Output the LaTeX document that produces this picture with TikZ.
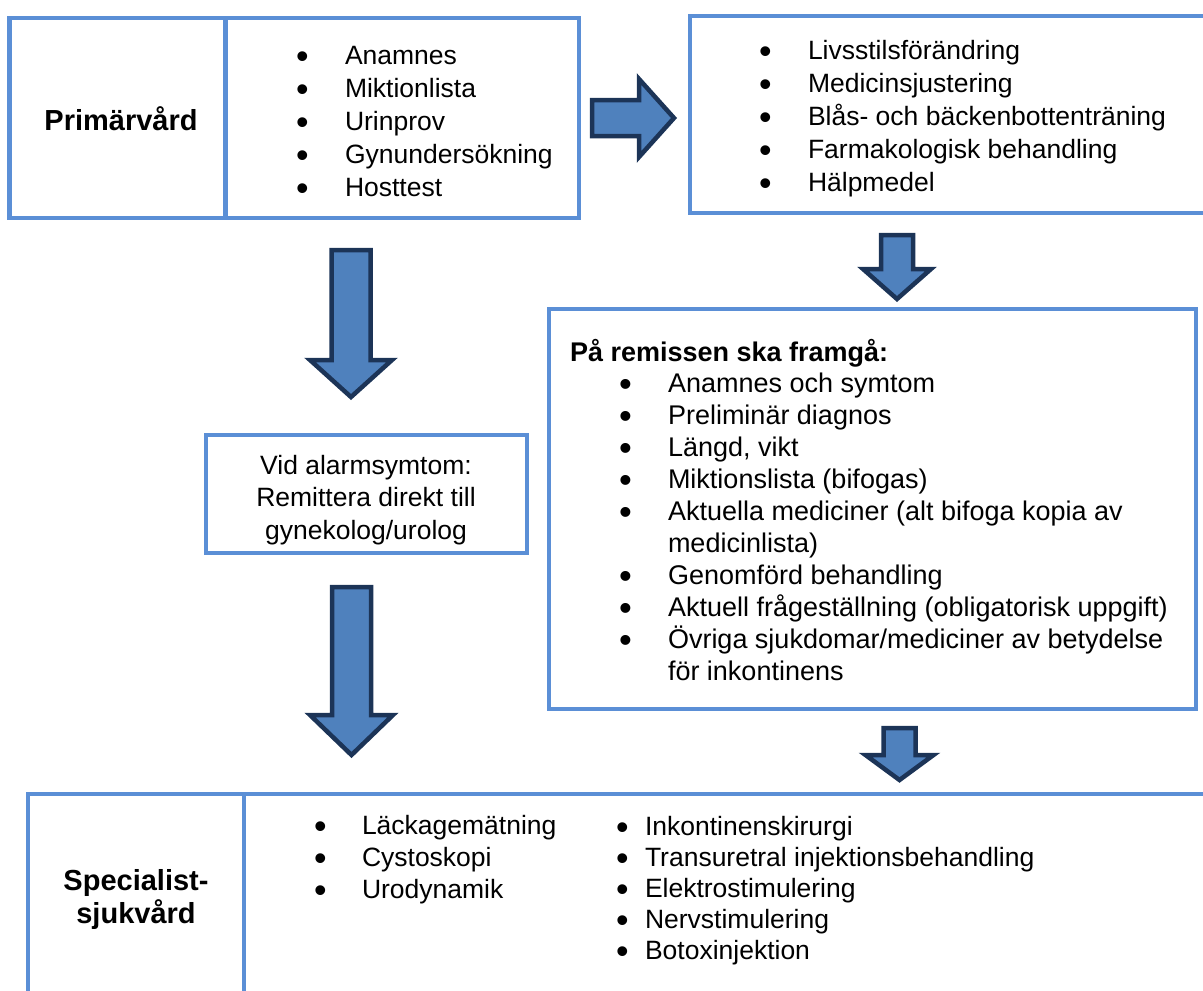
\documentclass[tikz,border=0pt]{standalone}
\usepackage{fontspec}
\setmainfont{Liberation Sans}
\definecolor{boxblue}{RGB}{91,143,214}
\definecolor{arrfill}{RGB}{79,129,189}
\definecolor{arrline}{RGB}{28,52,87}
\newcommand{\bul}[1]{\makebox[#1][l]{\raisebox{-4pt}{\scalebox{1.35}{\textbullet}}}}
\newcommand{\nobul}[1]{\makebox[#1][l]{}}
\begin{document}
\begin{tikzpicture}[x=1pt,y=-1pt,
  box/.style={draw=boxblue,line width=4.5pt,rectangle,inner sep=0pt,outer sep=0pt,anchor=north west,fill=white},
  divider/.style={draw=boxblue,line width=4.5pt},
  blockarrow/.style={draw=arrline,fill=arrfill,line width=4.5pt,line join=miter},
  txt/.style={inner sep=0pt,outer sep=0pt,anchor=base west,font=\fontsize{26.5}{33}\selectfont},
  ctxt/.style={inner sep=0pt,outer sep=0pt,anchor=base,font=\fontsize{26.5}{32.5}\selectfont},
  headtxt/.style={inner sep=0pt,outer sep=0pt,anchor=base,font=\fontsize{29}{33.5}\selectfont\bfseries},
]
\useasboundingbox (0,0) rectangle (1203,991);
\clip (0,0) rectangle (1203,991);

% boxes
\node[box,minimum width=569.5pt,minimum height=200pt] (prim) at (9.5,18) {};
\draw[divider] ([xshift=216pt]prim.north west) -- ([xshift=216pt]prim.south west);
\node[box,minimum width=530pt,minimum height=197pt] (treat) at (690,16) {};
\node[box,minimum width=321pt,minimum height=118pt] (alarm) at (206,435) {};
\node[box,minimum width=647pt,minimum height=400pt] (remiss) at (549,309) {};
\node[box,minimum width=1190pt,minimum height=220pt] (spec) at (28,794) {};
\draw[divider] ([xshift=216pt]spec.north west) -- ([xshift=216pt]spec.south west);

% texts
\node[headtxt] (primlabel) at (121,130) {Primärvård};
\node[txt] (primlist) at (296,64) {\begin{tabular}[t]{@{}l@{}}
\bul{49pt}Anamnes\\
\bul{49pt}Miktionlista\\
\bul{49pt}Urinprov\\
\bul{49pt}Gynundersökning\\
\bul{49pt}Hosttest
\end{tabular}};

\node[txt] (treatlist) at (759,59) {\begin{tabular}[t]{@{}l@{}}
\bul{49pt}Livsstilsförändring\\
\bul{49pt}Medicinsjustering\\
\bul{49pt}Blås- och bäckenbottenträning\\
\bul{49pt}Farmakologisk behandling\\
\bul{49pt}Hälpmedel
\end{tabular}};

\node[ctxt] (alarmtext) at (366,474) {\begin{tabular}[t]{@{}c@{}}
Vid alarmsymtom:\\
Remittera direkt till\\
gynekolog/urolog
\end{tabular}};

\node[txt,font=\fontsize{27}{32}\selectfont\bfseries] (remhead) at (570,361) {På remissen ska framgå:};
\node[txt,font=\fontsize{27}{32}\selectfont] (remlist) at (619,392) {\begin{tabular}[t]{@{}l@{}}
\bul{49pt}Anamnes och symtom\\
\bul{49pt}Preliminär diagnos\\
\bul{49pt}Längd, vikt\\
\bul{49pt}Miktionslista (bifogas)\\
\bul{49pt}Aktuella mediciner (alt bifoga kopia av\\
\nobul{49pt}medicinlista)\\
\bul{49pt}Genomförd behandling\\
\bul{49pt}Aktuell frågeställning (obligatorisk uppgift)\\
\bul{49pt}Övriga sjukdomar/mediciner av betydelse\\
\nobul{49pt}för inkontinens
\end{tabular}};

\node[headtxt] (speclabel) at (136,890) {\begin{tabular}[t]{@{}c@{}}
Specialist-\\
sjukvård
\end{tabular}};
\node[txt,font=\fontsize{26.5}{32}\selectfont] (speclistA) at (314,834) {\begin{tabular}[t]{@{}l@{}}
\bul{48pt}Läckagemätning\\
\bul{48pt}Cystoskopi\\
\bul{48pt}Urodynamik
\end{tabular}};
\node[txt,font=\fontsize{26.5}{31}\selectfont] (speclistB) at (616,835) {\begin{tabular}[t]{@{}l@{}}
\bul{29pt}Inkontinenskirurgi\\
\bul{29pt}Transuretral injektionsbehandling\\
\bul{29pt}Elektrostimulering\\
\bul{29pt}Nervstimulering\\
\bul{29pt}Botoxinjektion
\end{tabular}};

% block arrows
\draw[blockarrow] (592,100) -- (639,100) -- (639,79) -- (674,118) -- (639,157) -- (639,136) -- (592,136) -- cycle;
\draw[blockarrow] (331.5,250) -- (370.5,250) -- (370.5,360) -- (392,360) -- (351,397) -- (310,360) -- (331.5,360) -- cycle;
\draw[blockarrow] (332,587) -- (371,587) -- (371,715) -- (393,715) -- (351.5,755) -- (310,715) -- (332,715) -- cycle;
\draw[blockarrow] (881,235) -- (913,235) -- (913,269) -- (931,269) -- (897,299) -- (863,269) -- (881,269) -- cycle;
\draw[blockarrow] (883.5,728) -- (915.5,728) -- (915.5,755) -- (933.5,755) -- (899.5,780) -- (865.5,755) -- (883.5,755) -- cycle;
\end{tikzpicture}
\end{document}
